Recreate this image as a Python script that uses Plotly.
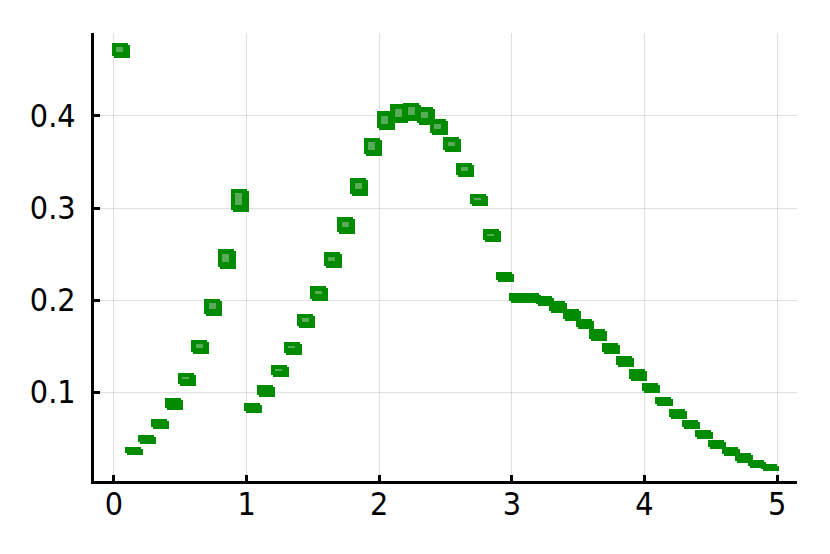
import plotly.graph_objects as go

# bin centres
x_vals = [0.05, 0.15, 0.25, 0.35, 0.45, 0.55, 0.65, 0.75, 0.85, 0.95,
          1.05, 1.15, 1.25, 1.35, 1.45, 1.55, 1.65, 1.75, 1.85, 1.95,
          2.05, 2.15, 2.25, 2.35, 2.45, 2.55, 2.65, 2.75, 2.85, 2.95,
          3.05, 3.15, 3.25, 3.35, 3.45, 3.55, 3.65, 3.75, 3.85, 3.95,
          4.05, 4.15, 4.25, 4.35, 4.45, 4.55, 4.65, 4.75, 4.85, 4.95]

# estimated values
y_vals = [0.4717, 0.0359, 0.0489, 0.0652, 0.0870, 0.1141, 0.1489, 0.1924, 0.2446, 0.3087,
          0.0826, 0.1011, 0.1228, 0.1478, 0.1772, 0.2076, 0.2435, 0.2815, 0.3228, 0.3663,
          0.3946, 0.4022, 0.4043, 0.4000, 0.3880, 0.3685, 0.3413, 0.3087, 0.2696, 0.2250,
          0.2022, 0.2022, 0.1989, 0.1924, 0.1837, 0.1739, 0.1620, 0.1478, 0.1337, 0.1185,
          0.1043, 0.0902, 0.0761, 0.0652, 0.0543, 0.0435, 0.0359, 0.0283, 0.0217, 0.0185]

# spread of each estimate (full height of the outer box, data units)
spread = [0.0163, 0.0087, 0.0098, 0.0109, 0.0120, 0.0141, 0.0152, 0.0185, 0.0207, 0.0250,
          0.0109, 0.0120, 0.0130, 0.0141, 0.0152, 0.0163, 0.0174, 0.0185, 0.0196, 0.0196,
          0.0207, 0.0207, 0.0196, 0.0196, 0.0174, 0.0163, 0.0152, 0.0130, 0.0141, 0.0109,
          0.0098, 0.0109, 0.0109, 0.0120, 0.0120, 0.0109, 0.0120, 0.0120, 0.0120, 0.0120,
          0.0109, 0.0098, 0.0109, 0.0098, 0.0098, 0.0098, 0.0098, 0.0098, 0.0087, 0.0076]

# inner (lighter) box height, data units
inner = [0.0054, 0.0, 0.0, 0.0, 0.0, 0.0022, 0.0043, 0.0065, 0.0087, 0.0130,
         0.0, 0.0, 0.0016, 0.0022, 0.0033, 0.0033, 0.0043, 0.0054, 0.0065, 0.0087,
         0.0087, 0.0087, 0.0087, 0.0076, 0.0054, 0.0043, 0.0033, 0.0022, 0.0011, 0.0,
         0.0, 0.0, 0.0, 0.0, 0.0, 0.0, 0.0, 0.0, 0.0, 0.0,
         0.0, 0.0, 0.0, 0.0, 0.0, 0.0, 0.0, 0.0, 0.0, 0.0]

GREEN = "rgb(0,139,0)"
LIGHT = "rgb(88,172,88)"
PX_X = 1 / 132.7   # x units per pixel
PX_Y = 1 / 920.0   # y units per pixel

fig = go.Figure()

# outer box drawn as two slightly shifted rectangles
h_box = [s - 2 * PX_Y for s in spread]
fig.add_trace(go.Bar(
    x=x_vals, y=h_box,
    base=[y - s / 2 + 2 * PX_Y for y, s in zip(y_vals, spread)],
    width=16 * PX_X, offset=-9 * PX_X,
    marker=dict(color=GREEN, line=dict(width=0)), hoverinfo="skip"))
fig.add_trace(go.Bar(
    x=x_vals, y=h_box,
    base=[y - s / 2 for y, s in zip(y_vals, spread)],
    width=16 * PX_X, offset=-7 * PX_X,
    marker=dict(color=GREEN, line=dict(width=0)), hoverinfo="skip"))

# lighter inner box
xi = [x for x, h in zip(x_vals, inner) if h > 0]
yi = [y for y, h in zip(y_vals, inner) if h > 0]
hi = [h for h in inner if h > 0]
fig.add_trace(go.Bar(
    x=xi, y=hi,
    base=[y + PX_Y - h / 2 for y, h in zip(yi, hi)],
    width=7 * PX_X, offset=-4.5 * PX_X,
    marker=dict(color=LIGHT, line=dict(width=0)), hoverinfo="skip"))

axis_common = dict(
    showline=True, linecolor="black", linewidth=3,
    showgrid=True, gridcolor="rgba(0,0,0,0.12)", gridwidth=1,
    zeroline=False, ticks="inside", ticklen=6, tickwidth=3, tickcolor="black",
    tickfont=dict(family="DejaVu Sans Condensed, DejaVu Sans", size=32, color="black"),
    mirror=False,
)

fig.update_layout(
    width=830, height=554,
    plot_bgcolor="white", paper_bgcolor="white",
    barmode="overlay", bargap=0, showlegend=False,
    margin=dict(l=86, r=41, t=25, b=81),
    xaxis=dict(range=[-0.15, 5.15], tickvals=[0, 1, 2, 3, 4, 5],
               ticklabelstandoff=-7, **axis_common),
    yaxis=dict(range=[0.0033, 0.4902], tickvals=[0.1, 0.2, 0.3, 0.4],
               tickformat=".1f", ticklabelstandoff=9, **axis_common),
)

fig.write_html("out.html")
